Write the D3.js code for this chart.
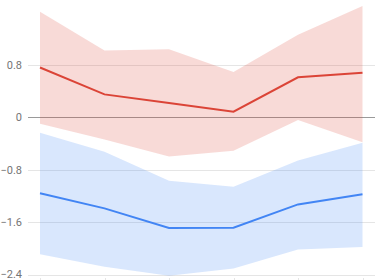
<!DOCTYPE html>
<html>
<head>
<meta charset="utf-8">
<script src="https://cdn.jsdelivr.net/npm/d3@7"></script>
<style>
  html, body { margin: 0; padding: 0; background: #fff; }
  svg { display: block; font-family: Roboto, "Noto Sans", sans-serif; }
</style>
</head>
<body>
<svg id="chart" width="380" height="280"></svg>
<script>
const categories = ["1", "2", "3", "4", "5", "6"];
const redLine  = [0.76, 0.35, 0.22, 0.086, 0.61, 0.68];
const redUpper = [1.61, 1.02, 1.04, 0.69, 1.26, 1.70];
const redLower = [-0.10, -0.34, -0.60, -0.51, -0.04, -0.38];
const blueLine  = [-1.16, -1.39, -1.69, -1.685, -1.33, -1.175];
const blueUpper = [-0.235, -0.525, -0.97, -1.06, -0.66, -0.39];
const blueLower = [-2.09, -2.28, -2.42, -2.31, -2.02, -1.98];
const yTicks = [0.8, 0, -0.8, -1.6, -2.4];

const svg = d3.select("#chart");
const left = 28, right = 375;
const zeroY = 117.3, unit = 65.5;

const x = d3.scalePoint().domain(categories).range([40, 362.5]);
const y = d3.scaleLinear().domain([0, 1]).range([zeroY, zeroY - unit]);

// gridlines
svg.append("g").selectAll("line").data(yTicks).join("line")
  .attr("x1", left).attr("x2", right)
  .attr("y1", d => Math.round(y(d)) + 0.5).attr("y2", d => Math.round(y(d)) + 0.5)
  .attr("stroke", d => d === 0 ? "#9a9a9a" : "#e5e5e5")
  .attr("stroke-width", 1);

// x tick marks
svg.append("g").selectAll("line").data(categories).join("line")
  .attr("x1", d => Math.round(x(d)) + 0.5).attr("x2", d => Math.round(x(d)) + 0.5)
  .attr("y1", Math.round(y(-2.4)) + 3).attr("y2", 280)
  .attr("stroke", "#e5e5e5");

// y labels
svg.append("g").selectAll("text").data(yTicks).join("text")
  .attr("x", 22).attr("y", d => y(d))
  .attr("dy", "0.35em")
  .attr("text-anchor", "end")
  .attr("font-size", 11)
  .attr("fill", "#757575")
  .text(d => d3.format("")(d));

const series = [
  { line: redLine, upper: redUpper, lower: redLower, color: "#db4437" },
  { line: blueLine, upper: blueUpper, lower: blueLower, color: "#4285f4" }
];

const area = d3.area()
  .x((d, i) => x(categories[i]))
  .y0(d => y(d[0]))
  .y1(d => y(d[1]));
const line = d3.line()
  .x((d, i) => x(categories[i]))
  .y(d => y(d));

series.forEach(s => {
  svg.append("path")
    .datum(s.lower.map((v, i) => [v, s.upper[i]]))
    .attr("d", area)
    .attr("fill", s.color)
    .attr("fill-opacity", 0.2);
});
series.forEach(s => {
  svg.append("path")
    .datum(s.line)
    .attr("d", line)
    .attr("fill", "none")
    .attr("stroke", s.color)
    .attr("stroke-width", 2);
});
</script>
</body>
</html>
